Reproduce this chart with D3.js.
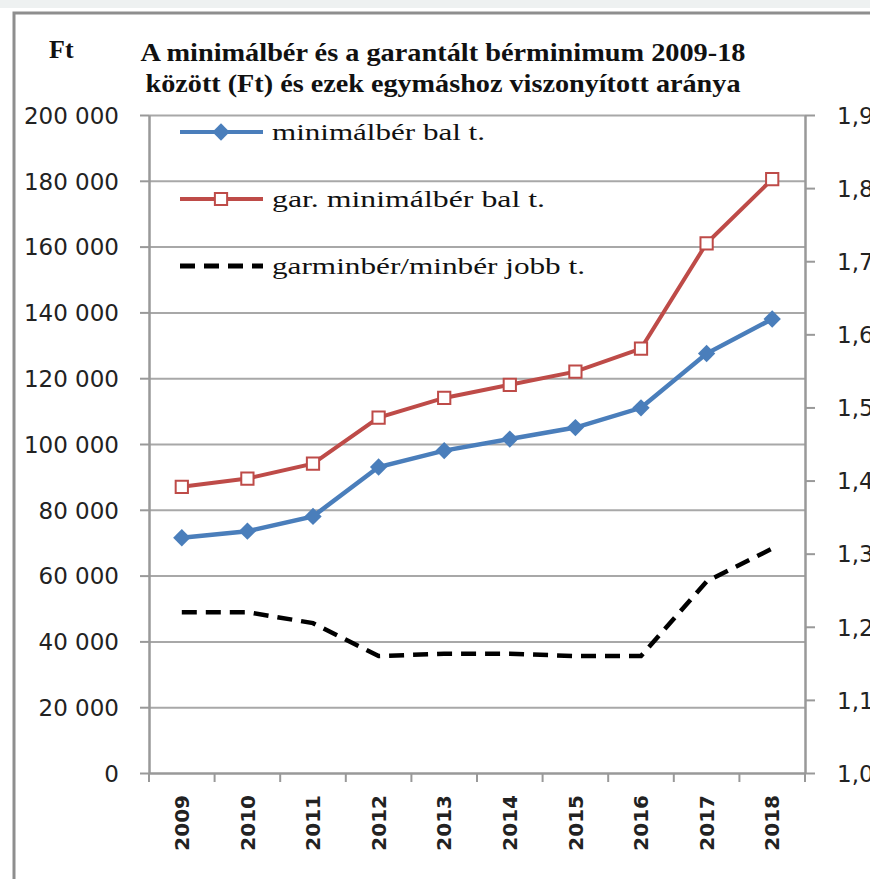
<!DOCTYPE html>
<html>
<head>
<meta charset="utf-8">
<script src="https://cdn.jsdelivr.net/npm/d3@7"></script>
<style>
  body { margin: 0; background: #fff; }
  svg { display: block; }
  .tick text { font-family: "DejaVu Sans", sans-serif; fill: #222; }
</style>
</head>
<body>
<div id="chart"></div>
<script>
// data
const years = ["2009", "2010", "2011", "2012", "2013", "2014", "2015", "2016", "2017", "2018"];
const minimalber = [71500, 73500, 78000, 93000, 98000, 101500, 105000, 111000, 127500, 138000];
const garMinimalber = [87000, 89500, 94000, 108000, 114000, 118000, 122000, 129000, 161000, 180500];
const arany = [1.22, 1.22, 1.205, 1.16, 1.163, 1.163, 1.16, 1.16, 1.262, 1.307];
const leftTicks = [0, 20000, 40000, 60000, 80000, 100000, 120000, 140000, 160000, 180000, 200000];
const rightTicks = [1.0, 1.1, 1.2, 1.3, 1.4, 1.5, 1.6, 1.7, 1.8, 1.9];
const titleLines = ["A minimálbér és a garantált bérminimum 2009-18", "között (Ft) és ezek egymáshoz viszonyított aránya"];
const legendLabels = ["minimálbér bal t.", "gar. minimálbér bal t.", "garminbér/minbér jobb t."];

const W = 870, H = 879;
const plot = { left: 149, right: 805, top: 115, bottom: 773 };
const blue = "#4a7ebb", red = "#be4b48", grid = "#a8a8a8", axisCol = "#999";

const svg = d3.select("#chart").append("svg")
    .attr("width", W)
    .attr("height", H);

// page background strip + chart frame
svg.append("rect").attr("x", 0).attr("y", 0).attr("width", W).attr("height", 8).attr("fill", "#eef1f1");
svg.append("path")
    .attr("d", `M14,${H + 5} L14,13 L${W + 5},13`)
    .attr("fill", "none")
    .attr("stroke", "#8e8e8e")
    .attr("stroke-width", 3);

const x = d3.scaleBand().domain(years).range([plot.left, plot.right]).padding(0);
const yL = d3.scaleLinear().domain([0, 200000]).range([plot.bottom, plot.top]);
const yR = d3.scaleLinear().domain([1.0, 1.9]).range([plot.bottom, plot.top]);
const cx = d => x(d) + x.bandwidth() / 2;

const fmtFt = v => d3.format(",")(v).replace(/,/g, " ");
const fmtR = v => d3.format(".1f")(v).replace(".", ",");

// gridlines
svg.append("g")
    .attr("transform", `translate(${plot.left},0)`)
    .call(d3.axisLeft(yL).tickValues(leftTicks.slice(1)).tickSize(-(plot.right - plot.left)).tickFormat(""))
    .call(g => g.select(".domain").remove())
    .call(g => g.selectAll("line").attr("stroke", grid).attr("stroke-width", 2));

// left axis
svg.append("g")
    .attr("transform", `translate(${plot.left},0)`)
    .call(d3.axisLeft(yL).tickValues(leftTicks).tickFormat(fmtFt).tickSize(9).tickPadding(21).tickSizeOuter(0))
    .call(g => g.select(".domain").attr("stroke", axisCol).attr("stroke-width", 2.5))
    .call(g => g.selectAll("line").attr("stroke", axisCol).attr("stroke-width", 2))
    .call(g => g.selectAll("text").attr("font-size", 23).attr("dy", "0.36em"));

// right axis
svg.append("g")
    .attr("transform", `translate(${plot.right},0)`)
    .call(d3.axisRight(yR).tickValues(rightTicks).tickFormat(fmtR).tickSize(10).tickPadding(22).tickSizeOuter(0))
    .call(g => g.select(".domain").attr("stroke", axisCol).attr("stroke-width", 2.5))
    .call(g => g.selectAll("line").attr("stroke", axisCol).attr("stroke-width", 2))
    .call(g => g.selectAll("text").attr("font-size", 23).attr("dy", "0.36em"));

// bottom axis: labels at centres, ticks on category boundaries
const xAxis = svg.append("g")
    .attr("transform", `translate(0,${plot.bottom})`)
    .call(d3.axisBottom(x).tickSize(0).tickSizeOuter(0))
    .call(g => g.select(".domain").attr("stroke", axisCol).attr("stroke-width", 2.5))
    .call(g => g.selectAll(".tick text")
        .attr("font-size", 20)
        .attr("font-weight", "bold")
        .attr("transform", "rotate(-90)")
        .attr("text-anchor", "end")
        .attr("x", -22)
        .attr("y", 0)
        .attr("dy", "0.36em"));

xAxis.selectAll(".bound")
    .data(years.concat(["end"]))
    .join("line")
    .attr("class", "bound")
    .attr("x1", d => d === "end" ? plot.right : x(d))
    .attr("x2", d => d === "end" ? plot.right : x(d))
    .attr("y1", 0)
    .attr("y2", 9)
    .attr("stroke", axisCol)
    .attr("stroke-width", 2);

// lines
const lineL = d3.line().x((d, i) => cx(years[i])).y(d => yL(d));
const lineR = d3.line().x((d, i) => cx(years[i])).y(d => yR(d));

svg.append("path")
    .datum(arany)
    .attr("d", lineR)
    .attr("fill", "none")
    .attr("stroke", "#000")
    .attr("stroke-width", 4.5)
    .attr("stroke-dasharray", "15,9");

svg.append("path")
    .datum(garMinimalber)
    .attr("d", lineL)
    .attr("fill", "none")
    .attr("stroke", red)
    .attr("stroke-width", 4);

svg.append("path")
    .datum(minimalber)
    .attr("d", lineL)
    .attr("fill", "none")
    .attr("stroke", blue)
    .attr("stroke-width", 4.5);

const diamond = d3.symbol().type(d3.symbolSquare).size(150);
const square = d3.symbol().type(d3.symbolSquare).size(150);

svg.append("g").selectAll("path")
    .data(garMinimalber)
    .join("path")
    .attr("d", square)
    .attr("transform", (d, i) => `translate(${cx(years[i])},${yL(d)})`)
    .attr("fill", "#fff")
    .attr("stroke", red)
    .attr("stroke-width", 2);

svg.append("g").selectAll("path")
    .data(minimalber)
    .join("path")
    .attr("d", diamond)
    .attr("transform", (d, i) => `translate(${cx(years[i])},${yL(d)}) rotate(45)`)
    .attr("fill", blue);

// title
svg.append("text")
    .attr("x", 49).attr("y", 58)
    .attr("font-family", "Liberation Serif, serif")
    .attr("font-weight", "bold")
    .attr("font-size", 26)
    .attr("fill", "#111")
    .text("Ft");

const titleW = [605, 595];
svg.selectAll(".title")
    .data(titleLines)
    .join("text")
    .attr("class", "title")
    .attr("x", 443)
    .attr("y", (d, i) => 61 + i * 31)
    .attr("text-anchor", "middle")
    .attr("font-family", "Liberation Serif, serif")
    .attr("font-weight", "bold")
    .attr("font-size", 25)
    .attr("textLength", (d, i) => titleW[i])
    .attr("lengthAdjust", "spacingAndGlyphs")
    .attr("fill", "#111")
    .text(d => d);

// legend
const legendW = [213, 273, 313];
const leg = svg.append("g").selectAll("g")
    .data(legendLabels)
    .join("g")
    .attr("transform", (d, i) => `translate(180,${132 + i * 67})`);

leg.append("line")
    .attr("x1", 0).attr("x2", 83)
    .attr("stroke", (d, i) => [blue, red, "#000"][i])
    .attr("stroke-width", (d, i) => i === 2 ? 5 : 4)
    .attr("stroke-dasharray", (d, i) => i === 2 ? "15,9" : null);

leg.filter((d, i) => i === 0).append("path")
    .attr("d", diamond)
    .attr("transform", "translate(41,0) rotate(45)")
    .attr("fill", blue);

leg.filter((d, i) => i === 1).append("path")
    .attr("d", square)
    .attr("transform", "translate(41,0)")
    .attr("fill", "#fff")
    .attr("stroke", red)
    .attr("stroke-width", 2);

leg.append("text")
    .attr("x", 92)
    .attr("y", 0)
    .attr("dy", "0.32em")
    .attr("font-family", "Liberation Serif, serif")
    .attr("font-size", 24)
    .attr("textLength", (d, i) => legendW[i])
    .attr("lengthAdjust", "spacingAndGlyphs")
    .attr("fill", "#111")
    .text(d => d);
</script>
</body>
</html>
